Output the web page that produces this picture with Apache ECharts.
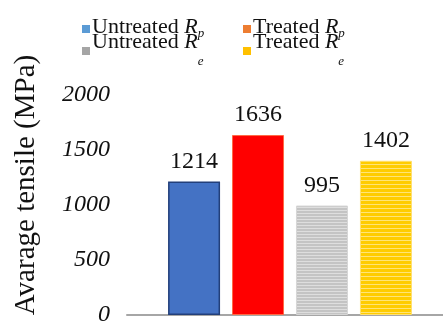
<!DOCTYPE html>
<html>
<head>
<meta charset="utf-8">
<script src="https://cdn.jsdelivr.net/npm/echarts@6/dist/echarts.min.js"></script>
<style>
  html, body { margin: 0; padding: 0; background: #fff; }
  #chart { width: 443px; height: 325px; }
</style>
</head>
<body>
<div id="chart"></div>
<script>
// Average tensile strength values (MPa)
const seriesNames = ['Untreated Rp', 'Treated Rp', 'Untreated Re', 'Treated Re'];
const values = [1214, 1636, 995, 1402];
const yTicks = [0, 500, 1000, 1500, 2000];
const legendWords = ['Untreated ', 'Treated ', 'Untreated ', 'Treated '];
const legendSubs = ['p', 'p', 'e', 'e'];

const SERIF = '"Liberation Serif", "DejaVu Serif", serif';

// Horizontal stripe fill used for the Re bars
function stripes(base, light, period, lineH) {
  const c = document.createElement('canvas');
  c.width = 8; c.height = period;
  const ctx = c.getContext('2d');
  ctx.fillStyle = base; ctx.fillRect(0, 0, 8, period);
  ctx.fillStyle = light; ctx.fillRect(0, 0, 8, lineH);
  return { image: c, repeat: 'repeat' };
}

const barStyles = [
  { color: '#4472C4', borderColor: '#223F7A', borderWidth: 1.5 },
  { color: '#FF0000', borderColor: '#FF6A45', borderWidth: 1 },
  { color: stripes('#C4C4C4', '#DEDEDE', 3, 1), borderColor: '#D6D6D6', borderWidth: 1 },
  { color: stripes('#FFCC00', '#FFE477', 4, 1), borderColor: '#FFE070', borderWidth: 1 }
];
const legendColors = ['#5B9BD5', '#ED7D31', '#A5A5A5', '#FFC000'];
// legend slots: [left, top] of each entry
const legendSlots = [[77, 11], [238, 11], [77, 26], [238, 26]];

const chart = echarts.init(document.getElementById('chart'), null, { renderer: 'canvas' });

// rich text for "word R_sub"; row 1 uses a shallow subscript, row 2 a deeper one
function richFor(row) {
  const L = row === 0 ? 26 : 40;
  const P = row === 0 ? 11 : 24;
  const main = { fontFamily: SERIF, fontSize: 22, color: '#111', lineHeight: L, verticalAlign: 'top' };
  return {
    t: main,
    r: Object.assign({}, main, { fontStyle: 'italic' }),
    s: { fontFamily: SERIF, fontSize: 13, fontStyle: 'italic', color: '#111', verticalAlign: 'top', padding: [P, 0, 0, 0] }
  };
}

const legends = seriesNames.map((name, i) => ({
  left: legendSlots[i][0],
  top: legendSlots[i][1],
  itemWidth: 8,
  itemHeight: 8,
  icon: 'rect',
  itemStyle: { color: legendColors[i], borderWidth: 0, decal: 'none' },
  data: [name],
  formatter: () => '{t|' + legendWords[i] + '}{r|R}{s|' + legendSubs[i] + '}',
  textStyle: { rich: richFor(i < 2 ? 0 : 1), padding: [0, 0, 0, -3] }
}));

chart.setOption({
  animation: false,
  backgroundColor: '#fff',
  legend: legends,
  grid: { left: 127, right: -10, top: 95, bottom: 10, containLabel: false, outerBoundsMode: 'none' },
  xAxis: {
    type: 'category',
    data: [''],
    axisLine: { lineStyle: { color: '#A6A6A6', width: 2 } },
    axisTick: { show: false },
    axisLabel: { show: false }
  },
  yAxis: {
    type: 'value',
    min: yTicks[0],
    max: yTicks[yTicks.length - 1],
    interval: 500,
    name: 'Avarage tensile (MPa)',
    nameLocation: 'middle',
    nameGap: 86,
    nameTextStyle: { fontFamily: SERIF, fontSize: 29, color: '#111', padding: [0, 0, 0, 40] },
    axisLine: { show: false },
    axisTick: { show: false },
    splitLine: { show: false },
    axisLabel: {
      fontFamily: SERIF, fontSize: 24, fontStyle: 'italic', color: '#111', margin: 17,
      formatter: v => String(v)
    }
  },
  series: seriesNames.map((name, i) => ({
    name: name,
    type: 'bar',
    barWidth: 52,
    barGap: '23%',
    data: [values[i]],
    itemStyle: barStyles[i],
    label: {
      show: true,
      position: 'top',
      distance: 8,
      fontFamily: SERIF,
      fontSize: 24,
      color: '#111'
    }
  }))
});
</script>
</body>
</html>
